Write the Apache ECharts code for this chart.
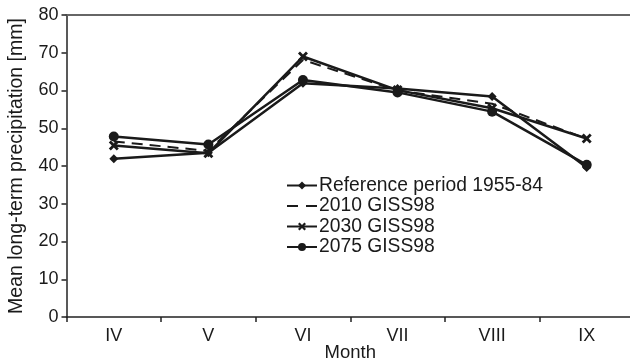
<!DOCTYPE html>
<html><head><meta charset="utf-8">
<script src="https://cdn.jsdelivr.net/npm/echarts@6/dist/echarts.min.js"></script>
<style>html,body{margin:0;padding:0;background:#fff}#c{width:630px;height:364px}</style>
</head><body><div id="c"></div>
<script>
const months = ['IV','V','VI','VII','VIII','IX'];
const seriesNames = ['Reference period 1955-84','2010 GISS98','2030 GISS98','2075 GISS98'];
const refData = [41.9, 43.5, 61.9, 60.5, 58.4, 39.6];
const g2010 = [46.5, 44.0, 68.1, 60.0, 56.5, 47.2];
const g2030 = [45.4, 43.4, 69.0, 60.1, 55.3, 47.3];
const g2075 = [47.8, 45.7, 62.8, 59.5, 54.4, 40.3];
const yTicks = {min: 0, max: 80, interval: 10};

const xPath = 'path://M0,2 L2,0 L5,3 L8,0 L10,2 L7,5 L10,8 L8,10 L5,7 L2,10 L0,8 L3,5 Z';
const dashIcon = 'path://M0,4 H11 V6 H0 Z M19,4 H30 V6 H19 Z M0,0 h0.01 v0.01 h-0.01 Z M0,10 h0.01 v-0.01 h-0.01 Z';
const lineCol = '#1a1a1a';
const txt = '#1a1a1a';
const base = {type:'line', smooth:false, color: lineCol, z: 3,
  lineStyle:{color: lineCol, width: 2.5}, itemStyle:{color: lineCol}};

const chart = echarts.init(document.getElementById('c'));
chart.setOption({
  animation: false,
  grid: {left: 66.5, right: -4, top: 15, bottom: 47, containLabel: false, outerBoundsMode: 'none'},
  legend: {
    left: 281, top: 171, orient: 'vertical', itemGap: 1.5, itemWidth: 30, itemHeight: 10,
    textStyle: {fontFamily: 'Liberation Sans', fontSize: 19.3, color: txt, padding: [0,0,0,-3]},
    data: [
      {name: seriesNames[0]},
      {name: seriesNames[1], icon: dashIcon, itemStyle: {color: lineCol}},
      {name: seriesNames[2]},
      {name: seriesNames[3]}
    ]
  },
  xAxis: [{
    type: 'category', data: months, boundaryGap: true,
    name: 'Month', nameLocation: 'middle', nameGap: 26, nameMoveOverlap: false,
    nameTextStyle: {fontFamily: 'Liberation Sans', fontSize: 18.5, color: txt},
    axisLine: {lineStyle: {color: '#222', width: 1.5}},
    axisTick: {show: true, length: 5, inside: false, alignWithLabel: false, lineStyle: {color: '#222', width: 1.5}},
    axisLabel: {fontFamily: 'Liberation Sans', fontSize: 18, color: txt, margin: 10}
  }, {
    type: 'category', data: months, position: 'top',
    axisLine: {lineStyle: {color: '#666', width: 2}},
    axisTick: {show: false}, axisLabel: {show: false}
  }],
  yAxis: {
    type: 'value', min: yTicks.min, max: yTicks.max, interval: yTicks.interval,
    name: 'Mean long-term precipitation [mm]', nameLocation: 'middle', nameGap: 40, nameMoveOverlap: false,
    nameTextStyle: {fontFamily: 'Liberation Sans', fontSize: 19.5, color: txt},
    splitLine: {show: false},
    axisLine: {show: true, lineStyle: {color: '#222', width: 1.5}},
    axisTick: {show: true, length: 5, lineStyle: {color: '#222', width: 1.5}},
    axisLabel: {fontFamily: 'Liberation Sans', fontSize: 18, color: txt, margin: 8}
  },
  series: [
    Object.assign({}, base, {name: seriesNames[0], data: refData, symbol: 'diamond', symbolSize: 9}),
    Object.assign({}, base, {name: seriesNames[1], data: g2010, symbol: 'none', showSymbol: false,
      lineStyle: {color: lineCol, width: 2, type: [11, 7]}}),
    Object.assign({}, base, {name: seriesNames[2], data: g2030, symbol: xPath, symbolSize: 10}),
    Object.assign({}, base, {name: seriesNames[3], data: g2075, symbol: 'circle', symbolSize: 10})
  ]
});
</script></body></html>
